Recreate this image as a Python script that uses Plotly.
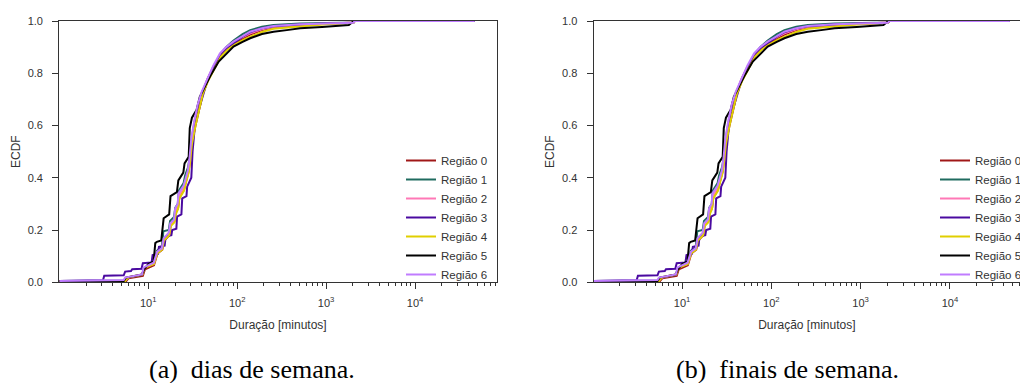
import plotly.graph_objects as go

W, H = 1020, 383

regions = ["Região 0", "Região 1", "Região 2", "Região 3", "Região 4", "Região 5", "Região 6"]
colors = ["#a01818", "#1f6b5f", "#ff78b6", "#4a0aa0", "#e0cf00", "#000000", "#c07cff"]

x0 = [1, 5.6, 6.0, 8.7, 9.2, 11.6, 12.7, 14.4, 15.1, 17.3, 18.0, 19.8, 20.5, 21.7, 22.4, 25.3, 26.5, 28.5, 29.5, 31, 34, 37, 41, 47, 56, 66, 78, 94, 120, 140, 190, 256, 510, 1000, 2030, 2100, 47000]
y0 = [0.003, 0.003, 0.015, 0.025, 0.05, 0.065, 0.11, 0.125, 0.16, 0.18, 0.225, 0.235, 0.27, 0.285, 0.325, 0.355, 0.385, 0.425, 0.465, 0.535, 0.6, 0.66, 0.72, 0.775, 0.825, 0.868, 0.895, 0.915, 0.935, 0.948, 0.965, 0.976, 0.985, 0.99, 0.994, 1.0, 1.0]

x1 = [1, 5.4, 5.7, 8.5, 9.0, 11.5, 12.5, 14.2, 14.8, 17.0, 17.6, 19.5, 20.1, 21.5, 22.0, 25, 26, 28, 29, 30.5, 33, 36, 40, 46, 54, 64, 75, 91, 115, 140, 190, 256, 510, 1000, 2030, 2100, 47000]
y1 = [0.005, 0.007, 0.017, 0.028, 0.055, 0.072, 0.12, 0.135, 0.195, 0.2, 0.235, 0.25, 0.285, 0.3, 0.35, 0.38, 0.41, 0.44, 0.47, 0.54, 0.61, 0.67, 0.72, 0.775, 0.825, 0.87, 0.9, 0.925, 0.95, 0.965, 0.978, 0.985, 0.99, 0.992, 0.994, 1.0, 1.0]

x2 = [1, 5.5, 5.8, 8.6, 9.1, 11.5, 12.6, 14.3, 15.0, 17.2, 17.8, 19.6, 20.3, 21.6, 22.2, 25.1, 26.2, 28.3, 29.3, 30.8, 33.5, 36.5, 40.5, 46.5, 55, 65, 76, 92, 118, 140, 190, 256, 510, 1000, 2030, 2100, 47000]
y2 = [0.004, 0.006, 0.017, 0.03, 0.057, 0.07, 0.115, 0.13, 0.165, 0.185, 0.22, 0.235, 0.27, 0.29, 0.33, 0.36, 0.385, 0.43, 0.465, 0.54, 0.61, 0.67, 0.725, 0.78, 0.83, 0.872, 0.898, 0.92, 0.94, 0.953, 0.968, 0.978, 0.986, 0.99, 0.994, 1.0, 1.0]

x3 = [1, 3.1, 3.2, 5.3, 5.5, 6.4, 6.6, 8.4, 8.7, 10.9, 11.2, 12.8, 13.2, 15.3, 15.7, 18.2, 18.6, 20.7, 21.1, 23.6, 24.1, 26.9, 27.4, 30.5, 31.5, 33.5, 37, 40, 47, 58, 68, 80, 91, 115, 140, 190, 256, 510, 1000, 2030, 2100, 47000]
y3 = [0.005, 0.008, 0.025, 0.027, 0.041, 0.043, 0.05, 0.052, 0.073, 0.076, 0.104, 0.108, 0.136, 0.14, 0.175, 0.18, 0.2, 0.205, 0.251, 0.26, 0.321, 0.33, 0.366, 0.40, 0.5, 0.6, 0.66, 0.7, 0.78, 0.84, 0.875, 0.9, 0.915, 0.94, 0.957, 0.972, 0.98, 0.987, 0.99, 0.993, 1.0, 1.0]

x4 = [1, 5.5, 6.0, 8.6, 9.1, 11.6, 12.6, 14.3, 15.0, 17.2, 17.9, 19.7, 20.4, 21.6, 22.3, 25.2, 26.5, 28.5, 29.5, 31, 34, 37, 41, 47, 56, 66, 78, 94, 120, 140, 190, 256, 510, 1000, 2030, 2100, 47000]
y4 = [0.005, 0.005, 0.02, 0.03, 0.055, 0.07, 0.11, 0.125, 0.16, 0.18, 0.215, 0.23, 0.26, 0.28, 0.32, 0.35, 0.38, 0.42, 0.46, 0.53, 0.6, 0.66, 0.72, 0.77, 0.82, 0.865, 0.89, 0.91, 0.93, 0.94, 0.958, 0.97, 0.98, 0.988, 0.993, 1.0, 1.0]

x5 = [1, 5.3, 5.6, 8.5, 9.0, 10.0, 11.5, 12.0, 12.5, 14.0, 14.9, 17.2, 17.8, 21.0, 21.8, 24.8, 25.6, 28.5, 29.3, 31, 35, 38, 42, 50, 62, 75, 91, 115, 140, 190, 256, 380, 510, 900, 1300, 1800, 2050, 47000]
y5 = [0.005, 0.005, 0.018, 0.03, 0.05, 0.07, 0.08, 0.15, 0.155, 0.16, 0.245, 0.26, 0.33, 0.345, 0.39, 0.42, 0.455, 0.48, 0.59, 0.63, 0.66, 0.71, 0.74, 0.79, 0.845, 0.875, 0.902, 0.92, 0.934, 0.95, 0.959, 0.966, 0.972, 0.977, 0.98, 0.985, 1.0, 1.0]

x6 = [1, 5.3, 5.5, 8.5, 8.9, 11.5, 12.6, 14.2, 14.9, 17.0, 17.7, 19.5, 20.1, 21.4, 21.9, 25, 26, 28, 29, 30.5, 33, 36, 40, 46, 54, 64, 75, 91, 115, 140, 190, 256, 510, 1000, 2030, 2100, 47000]
y6 = [0.005, 0.009, 0.018, 0.03, 0.057, 0.075, 0.117, 0.13, 0.168, 0.19, 0.226, 0.24, 0.283, 0.3, 0.34, 0.37, 0.39, 0.43, 0.47, 0.55, 0.62, 0.68, 0.73, 0.78, 0.83, 0.876, 0.9, 0.921, 0.943, 0.959, 0.972, 0.981, 0.988, 0.991, 0.9935, 1.0, 1.0]

weekday_x = [x0, x1, x2, x3, x4, x5, x6]
weekday_y = [y0, y1, y2, y3, y4, y5, y6]
# weekend curves are visually indistinguishable from weekdays at this resolution
weekend_x = [x0, x1, x2, x3, x4, x5, x6]
weekend_y = [y0, y1, y2, y3, y4, y5, y6]

major_ticks = [10, 100, 1000, 10000]
major_text = ["10<sup>1</sup>", "10<sup>2</sup>", "10<sup>3</sup>", "10<sup>4</sup>"]
minor_ticks = [m * 10 ** d for d in range(0, 5) for m in range(2, 10)]
y_ticks = [0.0, 0.2, 0.4, 0.6, 0.8, 1.0]

captions = ["(a)&nbsp;&nbsp;dias de semana.", "(b)&nbsp;&nbsp;finais de semana."]

FONT = "Liberation Sans, Arial, sans-serif"
AX = "#333333"

fig = go.Figure()
for i, name in enumerate(regions):
    fig.add_trace(go.Scatter(x=weekday_x[i], y=weekday_y[i], mode="lines", name=name,
                             line=dict(color=colors[i], width=2), xaxis="x", yaxis="y",
                             legend="legend"))
for i, name in enumerate(regions):
    fig.add_trace(go.Scatter(x=weekend_x[i], y=weekend_y[i], mode="lines", name=name,
                             line=dict(color=colors[i], width=2), xaxis="x2", yaxis="y2",
                             legend="legend2"))

def xax(domain, rng, mirror):
    return dict(domain=domain, type="log", range=rng, tickmode="array", automargin=False,
                tickvals=major_ticks, ticktext=major_text, ticks="outside", ticklen=6,
                tickwidth=1, tickcolor=AX, showline=True, linecolor=AX, linewidth=1.3,
                mirror=mirror, showgrid=False, zeroline=False, ticklabelstandoff=4,
                tickfont=dict(family=FONT, size=11, color=AX),
                minor=dict(tickvals=minor_ticks, ticks="outside", ticklen=3, tickcolor=AX, tickwidth=1, showgrid=False),
                title=dict(text="Duração [minutos]", font=dict(family=FONT, size=12, color=AX), standoff=12))

def yax(domain, anchor, mirror):
    return dict(domain=domain, range=[0, 1], anchor=anchor, tickmode="array", tickvals=y_ticks,
                automargin=False, ticklabelstandoff=7,
                tickformat=".1f", ticks="outside", ticklen=6, tickwidth=1, tickcolor=AX,
                showline=True, linecolor=AX, linewidth=1.3, mirror=mirror, showgrid=False,
                zeroline=False, tickfont=dict(family=FONT, size=11, color=AX),
                title=dict(text="ECDF", font=dict(family=FONT, size=12, color=AX), standoff=4))

ydom = [(H - 282.3) / H, (H - 21) / H]
fig.update_layout(
    width=W, height=H, margin=dict(l=0, r=0, t=0, b=0, autoexpand=False),
    paper_bgcolor="white", plot_bgcolor="white",
    xaxis=dict(xax([59.3 / W, 496.7 / W], [0.0, 4.918], True), anchor="y"),
    yaxis=yax(ydom, "x", True),
    xaxis2=dict(xax([593.7 / W, 1.0], [0.01, 4.785], True), anchor="y2"),
    yaxis2=yax(ydom, "x2", False),
    legend=dict(x=401 / W, y=1 - 146 / H, xanchor="left", yanchor="top",
                bgcolor="rgba(0,0,0,0)", font=dict(family=FONT, size=11.5, color=AX),
                tracegroupgap=0, itemwidth=30),
    legend2=dict(x=935 / W, y=1 - 146 / H, xanchor="left", yanchor="top",
                 bgcolor="rgba(0,0,0,0)", font=dict(family=FONT, size=11.5, color=AX),
                 tracegroupgap=0, itemwidth=30),
    showlegend=True,
)

for cx, cap in zip([252, 787], captions):
    fig.add_annotation(x=cx / W, y=1 - 369 / H, xref="paper", yref="paper", text=cap,
                       showarrow=False, xanchor="center", yanchor="middle",
                       font=dict(family="Liberation Serif, Times New Roman, serif", size=26, color="black"))

fig.write_html("out.html", config={"displayModeBar": False},
               post_script="document.body.style.margin='0';document.body.style.overflow='hidden';")
